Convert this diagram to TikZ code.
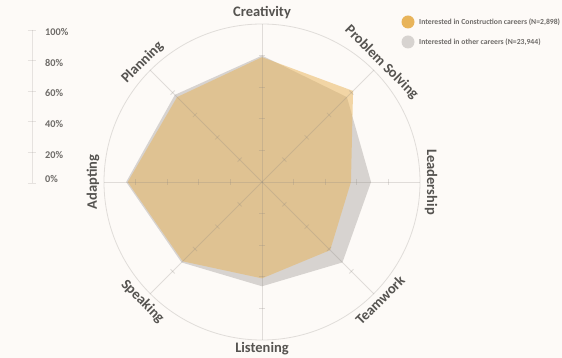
\documentclass[tikz,border=0pt]{standalone}
\usepackage{fontspec}
\setmainfont{Carlito}
\usetikzlibrary{calc}
\definecolor{bg}{HTML}{FDFAF7}
\definecolor{org}{HTML}{E8B45A}
\definecolor{gry}{HTML}{D7D3D0}
\definecolor{gridc}{HTML}{8A8580}
\definecolor{lbl}{HTML}{555350}
\definecolor{leg}{HTML}{6E6B68}
\tikzset{
  gridline/.style={draw=gridc,draw opacity=0.25,line width=0.8pt},
  axislabel/.style={font=\bfseries\fontsize{14.5}{16}\selectfont,text=lbl,inner sep=0pt},
  scalelabel/.style={font=\bfseries\fontsize{10.3}{11}\selectfont,text=leg,anchor=west,inner sep=0pt},
  legendtext/.style={font=\bfseries\fontsize{7.7}{9}\selectfont,text=leg,anchor=west,inner sep=0pt},
}
\begin{document}
\begin{tikzpicture}[x=1pt,y=1pt]
\fill[bg] (-262,-176) rectangle (300,182);
\useasboundingbox (-262,-176) rectangle (300,182);
\def\R{158}
% other careers
\fill[gry] (90:0.80*\R) -- (45:0.76*\R) -- (0:0.69*\R) -- (-45:0.72*\R) -- (-90:0.66*\R) -- (-135:0.72*\R) -- (180:0.86*\R) -- (135:0.78*\R) -- cycle;
% construction
\fill[org,fill opacity=0.52] (90:0.79*\R) -- (45:0.815*\R) -- (0:0.563*\R) -- (-45:0.61*\R) -- (-90:0.61*\R) -- (-135:0.71*\R) -- (180:0.85*\R) -- (135:0.76*\R) -- cycle;
% grid
\coordinate (O) at (0,0);
\draw[gridline] (O) circle (\R);
\foreach \a in {90,45,0,-45,-90,-135,180,135}{
  \draw[gridline] (O) -- (\a:\R);
  \foreach \k in {1,2,3,4}{
    \draw[gridline] ($(\a:\k*0.2*\R)+(\a+90:3)$) -- ($(\a:\k*0.2*\R)+(\a-90:3)$);
  }
}
% labels
\node[axislabel] (c) at (90:169) {Creativity};
\node[axislabel,rotate=-45] (ps) at (45:169) {Problem Solving};
\node[axislabel,rotate=-90] (ld) at (0:169) {Leadership};
\node[axislabel,rotate=45] (tw) at (-45:167) {Teamwork};
\node[axislabel] (li) at (-90:167) {Listening};
\node[axislabel,rotate=-45] (sp) at (-135:169) {Speaking};
\node[axislabel,rotate=90] (ad) at (180:169) {Adapting};
\node[axislabel,rotate=45] (pl) at (135:169) {Planning};
% scale
\draw[gridline,draw opacity=0.2] (-230,152) -- (-230,-1);
\foreach \y in {152,121.4,90.8,60.2,29.6,-1}{
  \draw[gridline,draw opacity=0.2] (-234,\y) -- (-226,\y);
}
\node[scalelabel] (s100) at (-217,150) {100\%};
\node[scalelabel] (s80) at (-217,119) {80\%};
\node[scalelabel] (s60) at (-217,89) {60\%};
\node[scalelabel] (s40) at (-217,58) {40\%};
\node[scalelabel] (s20) at (-217,27) {20\%};
\node[scalelabel] (s0) at (-217,3) {0\%};
% legend
\fill[org] (146,160) circle (6.5);
\fill[gry] (146,140) circle (6.5);
\node[legendtext] (l1) at (157,160) {Interested in Construction careers (N=2,898)};
\node[legendtext] (l2) at (157,140) {Interested in other careers (N=23,944)};
\end{tikzpicture}
\end{document}
